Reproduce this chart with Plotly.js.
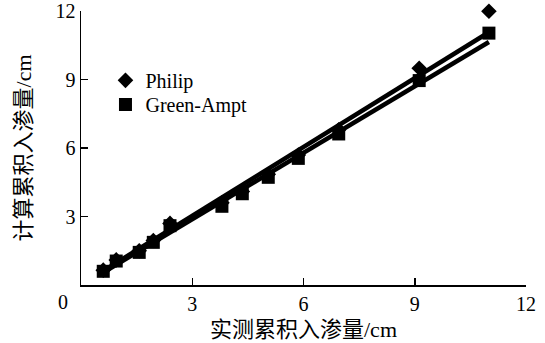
<!DOCTYPE html>
<html>
<head>
<meta charset="utf-8">
<script src="https://cdn.plot.ly/plotly-3.0.1.min.js"></script>
<style>html,body{margin:0;padding:0;background:#fff;}#chart{width:545px;height:343px;}</style>
</head>
<body>
<div id="chart"></div>
<script>
// Measured cumulative infiltration (cm)
const measured = [0.6, 0.95, 1.57, 1.95, 2.4, 3.8, 4.35, 5.05, 5.86, 6.95, 9.12, 11.0];
// Calculated cumulative infiltration (cm)
const philipValues = [0.65, 1.1, 1.5, 1.95, 2.7, 3.6, 4.1, 4.85, 5.7, 6.8, 9.5, 12.0];
const greenAmptValues = [0.6, 1.05, 1.43, 1.87, 2.6, 3.45, 4.0, 4.72, 5.55, 6.62, 8.96, 11.04];
// Fitted lines (end points)
const fitX = [0.6, 11.0];
const philipFit = [0.62, 11.08];
const greenAmptFit = [0.55, 10.65];
const seriesNames = ["Philip", "Green-Ampt"];
const xTicks = [3, 6, 9, 12];
const yTicks = [3, 6, 9, 12];
const xTitle = "实测累积入渗量/cm";
const yTitle = "计算累积入渗量/cm";

const serif = "Liberation Serif, Times New Roman, serif";
const cjk = "Liberation Serif, Noto Sans CJK SC, serif";

const traces = [
  {x: fitX, y: philipFit, mode: "lines", line: {color: "#000", width: 4.5}, showlegend: false, hoverinfo: "skip"},
  {x: fitX, y: greenAmptFit, mode: "lines", line: {color: "#000", width: 4.5}, showlegend: false, hoverinfo: "skip"},
  {x: measured, y: philipValues, name: seriesNames[0], legend: "legend", mode: "markers", cliponaxis: false, marker: {symbol: "diamond", size: 12, color: "#000"}},
  {x: measured, y: greenAmptValues, name: seriesNames[1], legend: "legend2", mode: "markers", cliponaxis: false, marker: {symbol: "square", size: 13, color: "#000"}}
];

const legendFont = {family: serif, size: 20, color: "#000"};
const layout = {
  width: 545, height: 343,
  margin: {l: 81, r: 19, t: 11, b: 58},
  paper_bgcolor: "#fff", plot_bgcolor: "#fff",
  showlegend: true,
  legend: {x: 0.055, y: 0.818, xanchor: "left", yanchor: "top", font: legendFont, bgcolor: "rgba(0,0,0,0)", itemwidth: 30},
  legend2: {x: 0.055, y: 0.73, xanchor: "left", yanchor: "top", font: legendFont, bgcolor: "rgba(0,0,0,0)", itemwidth: 30},
  xaxis: {
    range: [0, 12], tickvals: xTicks, ticktext: xTicks.map(String),
    showgrid: false, zeroline: false, showline: true, linecolor: "#000", linewidth: 1.5,
    ticks: "inside", ticklen: 7, tickwidth: 1.5, tickcolor: "#000",
    tickfont: {family: serif, size: 20, color: "#000"}, ticklabeloverflow: "allow",
    title: {text: xTitle, font: {family: cjk, size: 22, color: "#000"}, standoff: 8}
  },
  yaxis: {
    range: [0, 12.01], tickvals: yTicks, ticktext: yTicks.map(String),
    showgrid: false, zeroline: false, showline: true, linecolor: "#000", linewidth: 1.5,
    ticks: "inside", ticklen: 7, tickwidth: 1.5, tickcolor: "#000",
    tickfont: {family: serif, size: 20, color: "#000"}, ticklabeloverflow: "allow",
    title: {text: yTitle, font: {family: cjk, size: 22, color: "#000"}, standoff: 18}
  },
  annotations: [
    {text: "0", xref: "paper", yref: "paper", x: -0.04, y: 0, xanchor: "center", yanchor: "top", yshift: -4, showarrow: false, font: {family: serif, size: 20, color: "#000"}}
  ]
};

Plotly.newPlot("chart", traces, layout, {displayModeBar: false, staticPlot: true});
</script>
</body>
</html>
